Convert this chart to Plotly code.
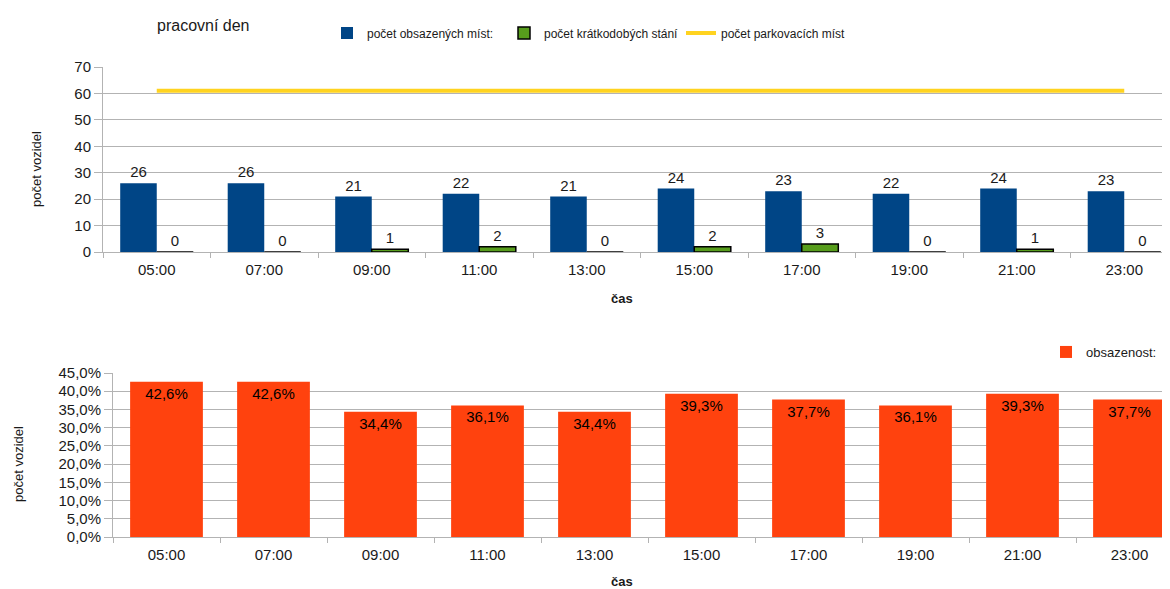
import plotly.graph_objects as go

# ---- data ----
times = ["05:00", "07:00", "09:00", "11:00", "13:00", "15:00", "17:00", "19:00", "21:00", "23:00"]
occupied = [26, 26, 21, 22, 21, 24, 23, 22, 24, 23]
short_term = [0, 0, 1, 2, 0, 2, 3, 0, 1, 0]
capacity = [61, 61, 61, 61, 61, 61, 61, 61, 61, 61]
occupancy = [0.426, 0.426, 0.344, 0.361, 0.344, 0.393, 0.377, 0.361, 0.393, 0.377]
y1_ticks = [0, 10, 20, 30, 40, 50, 60, 70]

W, H = 1170, 589
OFF = 8  # page body margin offset
FONT = "Liberation Sans, Arial, sans-serif"
GRID = "#b3b3b3"
TXT = "#1a1a1a"

BLUE = "#004586"
GREEN = "#579d1c"
YELLOW = "#ffd320"
ORANGE = "#ff420e"

fig = go.Figure()

fig.add_trace(go.Bar(
    x=times, y=occupied, name="počet obsazených míst:",
    marker=dict(color=BLUE, line=dict(width=0)),
    text=occupied, textposition="outside", cliponaxis=False,
    textfont=dict(size=15, color=TXT, family=FONT),
    offsetgroup="a", xaxis="x", yaxis="y", legend="legend",
))
fig.add_trace(go.Bar(
    x=times, y=short_term, name="počet krátkodobých stání",
    marker=dict(color=GREEN, line=dict(width=1.5, color="#000000")),
    text=short_term, textposition="outside", cliponaxis=False,
    textfont=dict(size=15, color=TXT, family=FONT),
    offsetgroup="b", xaxis="x", yaxis="y", legend="legend",
))
fig.add_trace(go.Scatter(
    x=times, y=capacity, name="počet parkovacích míst", mode="lines",
    line=dict(color=YELLOW, width=4),
    xaxis="x", yaxis="y", legend="legend",
))
fig.add_trace(go.Bar(
    x=times, y=occupancy, name="obsazenost:",
    marker=dict(color=ORANGE, line=dict(width=0)),
    texttemplate="%{y:.1%}", textposition="inside", insidetextanchor="end",
    textangle=0, constraintext="none",
    textfont=dict(size=15, color="#000000", family=FONT),
    xaxis="x2", yaxis="y2", legend="legend2",
))

def px_x(p):
    return (p - OFF) / W

def px_y(p):
    return 1 - (p - OFF) / H

axis_common = dict(
    showline=True, linecolor=GRID, linewidth=1,
    tickfont=dict(size=15, color=TXT, family=FONT),
    ticks="outside", tickcolor=GRID,
)

x1_left = 103
cw1 = 107.5
x2_left = 113
cw2 = 107.0
right_edge = W + OFF

fig.update_layout(
    width=W, height=H,
    margin=dict(l=0, r=0, t=0, b=0, autoexpand=False),
    paper_bgcolor="white", plot_bgcolor="white",
    separators=", ",
    font=dict(family=FONT, color=TXT),
    barmode="group",
    bargap=0.32, bargroupgap=0.0,
    showlegend=True,
    xaxis=dict(
        **axis_common,
        domain=[px_x(x1_left), 1],
        range=[-0.5, -0.5 + (right_edge - x1_left) / cw1],
        type="category", tickson="boundaries", ticklen=5,
        showgrid=False, ticklabelstandoff=4,
        anchor="y",
    ),
    yaxis=dict(
        **axis_common,
        domain=[px_y(252), px_y(67)],
        range=[0, 70], tickvals=y1_ticks, ticklen=8,
        showgrid=True, gridcolor=GRID, gridwidth=1, zeroline=False,
        anchor="x",
    ),
    xaxis2=dict(
        **axis_common,
        domain=[px_x(x2_left), 1],
        range=[-0.5, -0.5 + (right_edge - x2_left) / cw2],
        type="category", tickson="boundaries", ticklen=5,
        showgrid=False, ticklabelstandoff=4,
        anchor="y2",
    ),
    yaxis2=dict(
        **axis_common,
        domain=[px_y(537), px_y(373)],
        range=[0, 0.45], dtick=0.05, tickformat=".1%", ticklen=8,
        showgrid=True, gridcolor=GRID, gridwidth=1, zeroline=False,
        anchor="x2",
    ),
    legend=dict(
        orientation="h", x=px_x(327), y=px_y(33), xanchor="left", yanchor="middle",
        font=dict(size=12, color=TXT, family=FONT),
        entrywidth=132, bgcolor="rgba(0,0,0,0)", traceorder="normal",
    ),
    legend2=dict(
        orientation="h", x=px_x(1046), y=px_y(352), xanchor="left", yanchor="middle",
        font=dict(size=13, color=TXT, family=FONT),
        bgcolor="rgba(0,0,0,0)",
    ),
)

annotations = [
    dict(text="pracovní den", x=px_x(155), y=px_y(25), xanchor="left", yanchor="middle",
         font=dict(size=16, color=TXT, family=FONT)),
    dict(text="počet vozidel", x=px_x(36), y=px_y(169), textangle=-90,
         xanchor="center", yanchor="middle",
         font=dict(size=13, color=TXT, family=FONT)),
    dict(text="<b>čas</b>", x=px_x(622), y=px_y(298), xanchor="center", yanchor="middle",
         font=dict(size=13, color=TXT, family=FONT)),
    dict(text="počet vozidel", x=px_x(18), y=px_y(464), textangle=-90,
         xanchor="center", yanchor="middle",
         font=dict(size=13, color=TXT, family=FONT)),
    dict(text="<b>čas</b>", x=px_x(622), y=px_y(581), xanchor="center", yanchor="middle",
         font=dict(size=13, color=TXT, family=FONT)),
]
for a in annotations:
    a.update(xref="paper", yref="paper", showarrow=False)
fig.update_layout(annotations=annotations)

fig.write_html("out.html")
